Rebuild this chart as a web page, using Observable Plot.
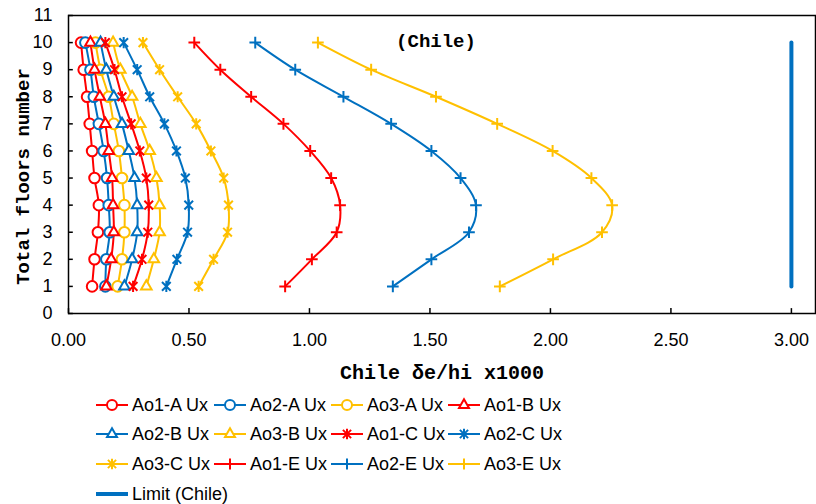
<!DOCTYPE html>
<html><head><meta charset="utf-8">
<script src="https://cdn.jsdelivr.net/npm/d3@7"></script>
<script src="https://cdn.jsdelivr.net/npm/@observablehq/plot@0.6"></script>
<style>
body{margin:0;background:#fff;width:816px;height:504px;overflow:hidden;position:relative;}
#chart{position:absolute;left:0;top:0;}
#legend{position:absolute;left:0;top:0;width:816px;height:504px;font-family:"Liberation Sans Narrow","Liberation Sans",sans-serif;font-size:18px;color:#000;}
.item{position:absolute;display:flex;align-items:center;white-space:nowrap;}
.item svg{margin-right:3px;}
</style></head><body><div id="chart"></div><div id="legend"></div>
<script>
const floors = [1, 2, 3, 4, 5, 6, 7, 8, 9, 10];
const seriesNames = ["Ao1-A Ux","Ao2-A Ux","Ao3-A Ux","Ao1-B Ux","Ao2-B Ux","Ao3-B Ux","Ao1-C Ux","Ao2-C Ux","Ao3-C Ux","Ao1-E Ux","Ao2-E Ux","Ao3-E Ux"];
const ao1A = [0.098, 0.108, 0.122, 0.126, 0.108, 0.098, 0.088, 0.077, 0.063, 0.052];
const ao2A = [0.153, 0.157, 0.171, 0.167, 0.160, 0.146, 0.126, 0.105, 0.091, 0.070];
const ao3A = [0.204, 0.222, 0.232, 0.232, 0.222, 0.209, 0.188, 0.167, 0.133, 0.112];
const ao1B = [0.157, 0.177, 0.188, 0.185, 0.181, 0.167, 0.153, 0.130, 0.108, 0.091];
const ao2B = [0.232, 0.264, 0.285, 0.285, 0.274, 0.250, 0.222, 0.188, 0.157, 0.133];
const ao3B = [0.323, 0.354, 0.378, 0.378, 0.365, 0.337, 0.298, 0.264, 0.215, 0.185];
const ao1C = [0.268, 0.305, 0.329, 0.333, 0.323, 0.296, 0.260, 0.222, 0.191, 0.153];
const ao2C = [0.406, 0.450, 0.494, 0.499, 0.485, 0.448, 0.398, 0.337, 0.285, 0.229];
const ao3C = [0.540, 0.602, 0.660, 0.664, 0.644, 0.591, 0.530, 0.453, 0.378, 0.309];
const ao1E = [0.899, 1.010, 1.113, 1.127, 1.090, 1.003, 0.892, 0.758, 0.630, 0.522];
const ao2E = [1.346, 1.506, 1.662, 1.691, 1.627, 1.506, 1.339, 1.141, 0.941, 0.775];
const ao3E = [1.790, 2.011, 2.214, 2.256, 2.170, 2.009, 1.779, 1.525, 1.256, 1.035];
const limitName = "Limit (Chile)";
const limitValue = 3.0;
const limitFloors = [1, 10];
const xTicks = [0, 0.5, 1, 1.5, 2, 2.5, 3];
const yTicks = [0, 1, 2, 3, 4, 5, 6, 7, 8, 9, 10, 11];
const xLabel = "Chile δe/hi x1000";
const yLabel = "Total floors number";
const note = "(Chile)";

const seriesValues = [ao1A, ao2A, ao3A, ao1B, ao2B, ao3B, ao1C, ao2C, ao3C, ao1E, ao2E, ao3E];
const RED = "#FF0000", BLUE = "#0070C0", YEL = "#FFC000";
const seriesColors = [RED, BLUE, YEL, RED, BLUE, YEL, RED, BLUE, YEL, RED, BLUE, YEL];

const starSym = {draw(ctx, size) {
  const r = Math.sqrt(size / Math.PI) * 1.05, a = r * 0.78;
  ctx.moveTo(-a, -a); ctx.lineTo(a, a);
  ctx.moveTo(-a, a); ctx.lineTo(a, -a);
  ctx.moveTo(0, -r); ctx.lineTo(0, r);
}};
const plusSym = {draw(ctx, size) {
  const r = Math.sqrt(size / Math.PI) * 1.1;
  ctx.moveTo(-r, 0); ctx.lineTo(r, 0);
  ctx.moveTo(0, -r); ctx.lineTo(0, r);
}};
const triSym = {draw(ctx, size) {
  const r = Math.sqrt(size / Math.PI) * 1.15;
  const h = r * Math.sqrt(3) / 2;
  ctx.moveTo(0, -r); ctx.lineTo(h, r / 2); ctx.lineTo(-h, r / 2); ctx.closePath();
}};
const circSym = d3.symbolCircle;
const seriesSymbols = [circSym, circSym, circSym, triSym, triSym, triSym, starSym, starSym, starSym, plusSym, plusSym, plusSym];

const rows = seriesNames.flatMap((s, i) => floors.map((f, j) => ({series: s, floor: f, value: seriesValues[i][j]})));
const limitRows = limitFloors.map(f => ({floor: f, value: limitValue}));

const tickFont = '"Liberation Sans Narrow","Liberation Sans",sans-serif';
const monoFont = '"Liberation Mono","DejaVu Sans Mono",monospace';

const chart = Plot.plot({
  width: 816, height: 390,
  marginLeft: 68, marginRight: 1, marginTop: 15, marginBottom: 77,
  style: {fontFamily: tickFont, fontSize: "18px", color: "#000", background: "transparent"},
  x: {domain: [0, 3.1], label: null},
  y: {domain: [0, 11], label: null},
  color: {domain: seriesNames, range: seriesColors},
  symbol: {domain: seriesNames, range: seriesSymbols},
  marks: [
    Plot.axisX({ticks: xTicks, tickSize: 0, tickPadding: 20, tickFormat: d3.format(".2f"), fontSize: 18}),
    Plot.axisY({ticks: yTicks, tickSize: 0, tickPadding: 16, fontSize: 18}),
    Plot.ruleX(xTicks, {x: d => d, y1: 0, y2: 0.18, stroke: "#000", strokeWidth: 1.5}),
    Plot.ruleY(yTicks, {y: d => d, x1: 0, x2: 0.02, stroke: "#000", strokeWidth: 1.5}),
    Plot.line(limitRows, {x: "value", y: "floor", stroke: BLUE, strokeWidth: 4}),
    Plot.line(rows, {x: "value", y: "floor", z: "series", stroke: "series", strokeWidth: 2, curve: "catmull-rom"}),
    Plot.dot(rows, {x: "value", y: "floor", symbol: "series", stroke: "series", fill: "white", r: 5.3, strokeWidth: 2}),
    Plot.text([note], {frameAnchor: "top", dx: -6, dy: 18, fontFamily: monoFont, fontWeight: "bold", fontSize: 19}),
    Plot.text([xLabel], {frameAnchor: "bottom", lineAnchor: "middle", dy: 59, fontFamily: monoFont, fontWeight: "bold", fontSize: 20}),
    Plot.text([yLabel], {frameAnchor: "left", textAnchor: "middle", lineAnchor: "middle", rotate: -90, dx: -46, dy: 12, fontFamily: monoFont, fontWeight: "bold", fontSize: 19}),
    Plot.frame({stroke: "#000", strokeWidth: 1.5})
  ]
});
document.getElementById("chart").append(chart);

// legend
const legend = document.getElementById("legend");
const colLeft = [95, 213, 330, 447];
const rowCenter = [405, 434, 464, 494];
const entries = seriesNames.map((s, i) => ({name: s, color: seriesColors[i], sym: seriesSymbols[i]}));
entries.push({name: limitName, color: BLUE, sym: null});
entries.forEach((e, i) => {
  const c = i % 4, r = Math.floor(i / 4);
  const div = document.createElement("div");
  div.className = "item";
  div.style.left = colLeft[c] + "px";
  div.style.top = (rowCenter[r] - 12) + "px";
  div.style.height = "24px";
  const svg = d3.create("svg").attr("width", 34).attr("height", 24);
  svg.append("line").attr("x1", 1).attr("x2", 33).attr("y1", 12).attr("y2", 12)
    .attr("stroke", e.color).attr("stroke-width", e.sym ? 2 : 4);
  if (e.sym) {
    svg.append("path").attr("transform", "translate(17,12)")
      .attr("d", d3.symbol(e.sym, 25 * Math.PI)())
      .attr("fill", "white").attr("stroke", e.color).attr("stroke-width", 2);
  }
  div.append(svg.node());
  const span = document.createElement("span");
  span.textContent = e.name;
  div.append(span);
  legend.append(div);
});
</script>
</body></html>
